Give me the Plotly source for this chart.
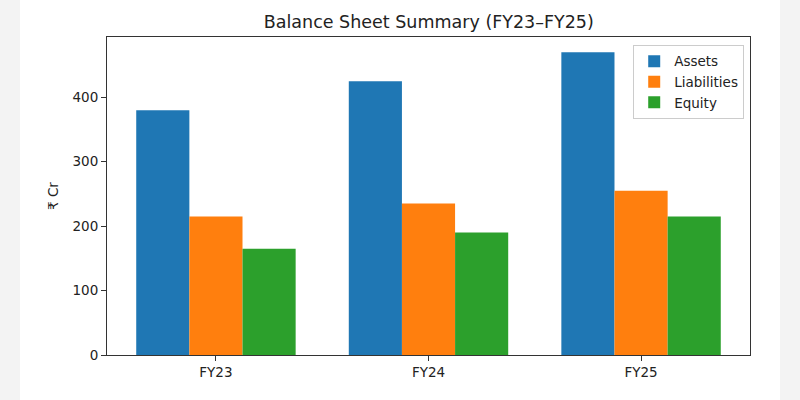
import plotly.graph_objects as go

years = ["FY23", "FY24", "FY25"]
assets = [380, 425, 470]
liabilities = [215, 235, 255]
equity = [165, 190, 215]

fig = go.Figure()
fig.add_trace(go.Bar(x=years, y=assets, name="Assets", marker_color="#1f77b4", marker_line_width=0))
fig.add_trace(go.Bar(x=years, y=liabilities, name="Liabilities", marker_color="#ff7f0e", marker_line_width=0))
fig.add_trace(go.Bar(x=years, y=equity, name="Equity", marker_color="#2ca02c", marker_line_width=0))

font = "DejaVu Sans, sans-serif"
fig.update_layout(
    width=800, height=400,
    margin=dict(l=107, r=50, t=37, b=45),
    paper_bgcolor="white", plot_bgcolor="white",
    barmode="group", bargap=0.25, bargroupgap=0,
    font=dict(family=font, size=13.5, color="#222"),
    title=dict(text="Balance Sheet Summary (FY23–FY25)", x=0.536, xanchor="center",
               y=0.945, yanchor="middle", font=dict(family=font, size=17.5, color="#222")),
    legend=dict(x=0.991, y=0.975, xanchor="right", yanchor="top",
                bgcolor="rgba(255,255,255,0.9)", bordercolor="#cccccc", borderwidth=1,
                font=dict(family=font, size=13.5, color="#222"), tracegroupgap=0),
    showlegend=True,
)
fig.update_xaxes(range=[-0.5125, 2.5125], showline=True, linecolor="#333", linewidth=1,
                 mirror=True, ticks="outside", ticklen=5, tickcolor="#333",
                 showgrid=False, tickfont=dict(family=font, size=13.5, color="#222"))
fig.update_yaxes(range=[0, 493.5], showline=True, linecolor="#333", linewidth=1,
                 mirror=True, ticks="outside", ticklen=5, tickcolor="#333",
                 tickvals=[0, 100, 200, 300, 400], showgrid=False, zeroline=False,
                 title=dict(text="₹ Cr", standoff=10, font=dict(family=font, size=13.5, color="#222")),
                 tickfont=dict(family=font, size=13.5, color="#222"))

# light gray photo margins at the sides
fig.add_shape(type="rect", xref="paper", yref="paper", x0=-107/643, x1=-87/643, y0=-45/318, y1=1+37/318,
              fillcolor="#f3f3f3", line_width=0, layer="below")
fig.add_shape(type="rect", xref="paper", yref="paper", x0=1+30/643, x1=1+50/643, y0=-45/318, y1=1+37/318,
              fillcolor="#f3f3f3", line_width=0, layer="below")

fig.write_html("out.html")
